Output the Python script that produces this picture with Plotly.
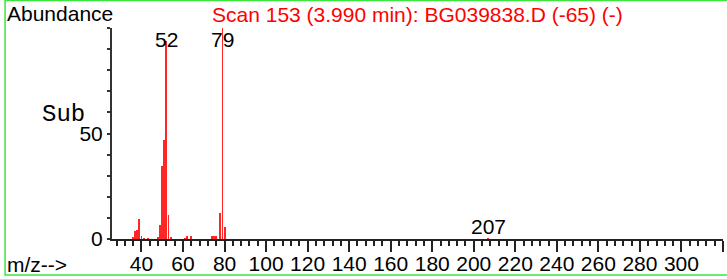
import plotly.graph_objects as go

# ---- data ----
mz = [36, 37, 38, 39, 40, 41, 43, 48, 49, 50, 51, 52, 53, 54,
      61, 62, 64, 74, 75, 76, 78, 79, 80, 207]
abundance = [1.0, 4.0, 4.5, 9.5, 1.2, 0.5, 0.5, 1.0, 6.8, 34.7, 46.8, 94.0, 11.6, 1.0,
             0.5, 1.2, 1.2, 1.5, 1.5, 1.5, 12.4, 100.0, 5.8, 0.5]
label_mz = [52, 79, 207]
x_tick_vals = [40, 60, 80, 100, 120, 140, 160, 180, 200, 220, 240, 260, 280, 300, 320]
x_tick_text = ["40", "60", "80", "100", "120", "140", "160", "180", "200", "220",
               "240", "260", "280", "300", ""]
y_tick_vals = [0, 50]
y_tick_text = ["0", "50"]
title_text = "Scan 153 (3.990 min): BG039838.D (-65) (-)"

FONT = "Arial, Liberation Sans, sans-serif"
FS = 21

fig = go.Figure()
fig.add_trace(go.Bar(x=mz, y=abundance, width=0.9,
                     marker=dict(color="rgba(255,0,0,0.85)", line=dict(width=0)),
                     hoverinfo="x+y"))

lookup = dict(zip(mz, abundance))
annotations = []
for m in label_mz:
    v = lookup[m]
    annotations.append(dict(x=m, y=min(v + 5.6, 94.5), xref="x", yref="y",
                            text=str(m), showarrow=False,
                            font=dict(family=FONT, size=FS, color="black"),
                            xanchor="center", yanchor="middle"))

annotations += [
    dict(x=0.5, y=1.063, xref="paper", yref="paper", text=title_text, showarrow=False,
         font=dict(family=FONT, size=FS, color="#ff0000"), xanchor="center", yanchor="middle"),
    dict(x=-0.175, y=1.070, xref="paper", yref="paper", text="Abundance", showarrow=False,
         font=dict(family=FONT, size=FS, color="black"), xanchor="left", yanchor="middle"),
    dict(x=-0.079, y=0.589, xref="paper", yref="paper", text="Sub", showarrow=False,
         font=dict(family="Courier New, Liberation Mono, monospace", size=24, color="black"),
         xanchor="center", yanchor="middle"),
    dict(x=-0.175, y=-0.122, xref="paper", yref="paper", text="m/z-->", showarrow=False,
         font=dict(family=FONT, size=FS, color="black"), xanchor="left", yanchor="middle"),
]

fig.update_layout(
    width=727, height=279,
    margin=dict(l=112, r=4, t=28, b=40, pad=0, autoexpand=False),
    plot_bgcolor="white", paper_bgcolor="white",
    showlegend=False, bargap=0,
    font=dict(family=FONT, size=FS, color="black"),
    annotations=annotations,
    shapes=[dict(type="rect", xref="paper", yref="paper",
                 x0=-0.175, x1=1.03, y0=-0.171, y1=1.13,
                 line=dict(color="#3ce63c", width=1.5), fillcolor="rgba(0,0,0,0)",
                 layer="below")],
)
fig.update_xaxes(range=[25.8, 320], showgrid=False, zeroline=False, automargin=False,
                 showline=True, linecolor="#222", linewidth=2,
                 tickmode="array", tickvals=x_tick_vals, ticktext=x_tick_text,
                 ticks="outside", ticklen=11, tickwidth=1.5, tickcolor="#222",
                 ticklabelstandoff=-6,
                 tickfont=dict(family=FONT, size=FS),
                 minor=dict(dtick=4, tick0=0, ticks="outside", ticklen=5,
                            tickwidth=1.5, tickcolor="#222"))
fig.update_yaxes(range=[0, 100], showgrid=False, zeroline=False, automargin=False,
                 showline=True, linecolor="#333", linewidth=2,
                 tickmode="array", tickvals=y_tick_vals, ticktext=y_tick_text,
                 ticks="outside", ticklen=3, tickwidth=1.5, tickcolor="#333",
                 tickfont=dict(family=FONT, size=FS),
                 minor=dict(dtick=10, tick0=0, ticks="outside", ticklen=3,
                            tickwidth=1.5, tickcolor="#333"))

fig.write_html("out.html", config={"displayModeBar": False},
               post_script="document.body.style.margin='0';document.body.style.overflow='hidden';")
